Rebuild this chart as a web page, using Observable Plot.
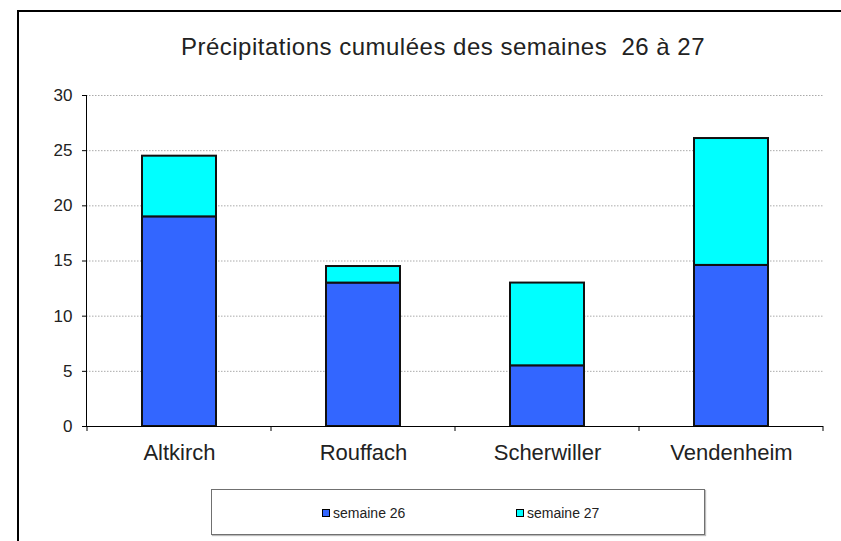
<!DOCTYPE html>
<html>
<head>
<meta charset="utf-8">
<script src="https://cdn.jsdelivr.net/npm/d3@7"></script>
<script src="https://cdn.jsdelivr.net/npm/@observablehq/plot@0.6"></script>
<style>
  html, body { margin: 0; padding: 0; background: #fff; }
  #wrap { position: relative; width: 841px; height: 541px; overflow: hidden; font-family: "Liberation Sans", Arial, sans-serif; }
  #frame { position: absolute; left: 17px; top: 10px; width: 900px; height: 600px; border: 2px solid #000; box-sizing: border-box; }
  #title { position: absolute; left: 0; width: 886px; top: 31px; text-align: center; font-size: 24px; letter-spacing: 0.5px; color: #222; white-space: pre; line-height: 32px; }
  #chart { position: absolute; left: 0; top: 0; }
  #legend { position: absolute; left: 211px; top: 489px; width: 494px; height: 46px; box-sizing: border-box; border: 1px solid #707070; box-shadow: 1px 1px 1px #bbb; font-size: 14px; color: #222; }
  .item { position: absolute; top: 14px; line-height: 18px; display: flex; align-items: center; }
  .sw { width: 6px; height: 6px; border: 1px solid #000; margin-right: 3px; }
</style>
</head>
<body>
<div id="wrap">
  <div id="frame"></div>
  <div id="title"></div>
  <div id="chart"></div>
  <div id="legend"></div>
</div>
<script>
const title = "Précipitations cumulées des semaines  26 à 27";
const categories = ["Altkirch", "Rouffach", "Scherwiller", "Vendenheim"];
const seriesNames = ["semaine 26", "semaine 27"];
const semaine26 = [19, 13, 5.5, 14.6];
const semaine27 = [5.5, 1.5, 7.5, 11.5];
const yTicks = [0, 5, 10, 15, 20, 25, 30];
const colors = ["#3366FF", "#00FFFF"];

document.getElementById("title").textContent = title;

const data = [];
categories.forEach((c, i) => {
  data.push({cat: c, serie: seriesNames[0], value: semaine26[i]});
  data.push({cat: c, serie: seriesNames[1], value: semaine27[i]});
});

function categoryTicks(index, scales) {
  const x = scales.x;
  const bw = typeof x.bandwidth === "function" ? x.bandwidth() : (x.bandwidth || 0);
  const centers = categories.map(c => x(c) + bw / 2);
  const step = centers[1] - centers[0];
  const bounds = [centers[0] - step / 2];
  for (let i = 0; i < centers.length; i++) bounds.push(centers[i] + step / 2);
  const y0 = scales.y(0);
  const g = d3.create("svg:g");
  g.selectAll("line").data(bounds.filter(d => isFinite(d))).join("line")
    .attr("x1", d => d).attr("x2", d => d)
    .attr("y1", y0).attr("y2", y0 + 5)
    .attr("stroke", "#000").attr("stroke-width", 1);
  return g.node();
}

const chart = Plot.plot({
  width: 841,
  height: 470,
  marginLeft: 86,
  marginRight: 18,
  marginTop: 95,
  marginBottom: 44,
  style: {fontFamily: "'Liberation Sans', Arial, sans-serif", color: "#222", background: "transparent"},
  x: {domain: categories, paddingInner: 0.6, paddingOuter: 0.3, label: null},
  y: {domain: [0, 30], label: null},
  color: {domain: seriesNames, range: colors},
  marks: [
    Plot.gridY(yTicks.filter(d => d > 0), {stroke: "#aaaaaa", strokeOpacity: 1, strokeDasharray: "1.5,1.5", strokeWidth: 1}),
    Plot.barY(data, {x: "cat", y: "value", fill: "serie", stroke: "#111", strokeWidth: 2, inset: 0}),
    Plot.axisY({ticks: yTicks, tickSize: 4, tickPadding: 10, fontSize: 17, label: null, stroke: "#000"}),
    Plot.axisX({tickSize: 0, tickPadding: 18, fontSize: 22, label: null}),
    Plot.frame({anchor: "left", stroke: "#000"}),
    Plot.ruleY([0], {stroke: "#000", strokeWidth: 1}),
    categoryTicks
  ]
});
document.getElementById("chart").appendChild(chart);

const legend = document.getElementById("legend");
const lx = [110, 304];
seriesNames.forEach((s, i) => {
  const it = document.createElement("div");
  it.className = "item";
  it.style.left = lx[i] + "px";
  const sw = document.createElement("span");
  sw.className = "sw";
  sw.style.background = colors[i];
  const t = document.createElement("span");
  t.textContent = s;
  it.appendChild(sw);
  it.appendChild(t);
  legend.appendChild(it);
});
</script>
</body>
</html>
